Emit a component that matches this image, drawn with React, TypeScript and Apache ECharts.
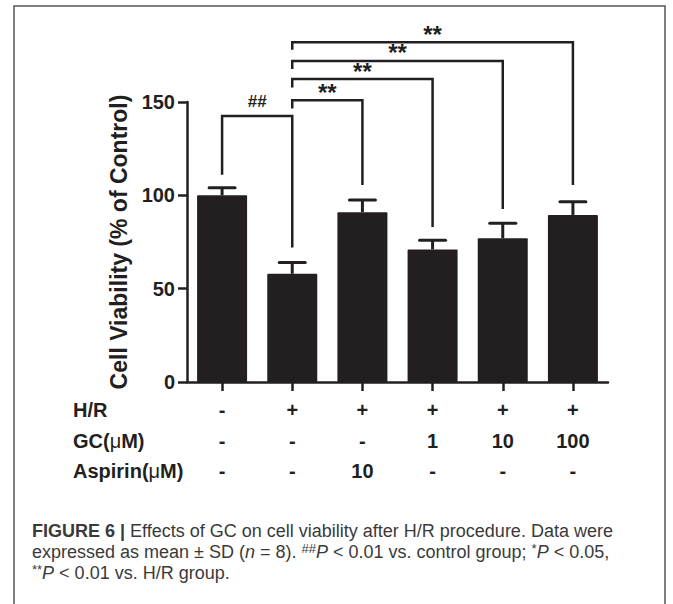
import React, { useEffect, useRef } from "react";
import * as echarts from "echarts";

// ---- data ----
const categories = ["Control", "H/R", "H/R+Aspirin 10", "H/R+GC 1", "H/R+GC 10", "H/R+GC 100"];
const means = [100, 58, 91, 71, 77, 89.5];
const sds = [4, 6, 6.5, 5, 8, 7];
const yTicks = { min: 0, max: 150, interval: 50 };
const rowHeaders = ["H/R", "GC(μM)", "Aspirin(μM)"];
const hrRow = ["-", "+", "+", "+", "+", "+"];
const gcRow = ["-", "-", "-", "1", "10", "100"];
const aspirinRow = ["-", "-", "10", "-", "-", "-"];
const yAxisTitle = "Cell Viability (% of Control)";
// [fromIndex, toIndex, lineY, leftLegEndY, rightLegEndY]
const brackets = [
  [0, 1, 142.5, 111, 72],
  [1, 2, 151, 146.5, 105.5],
  [1, 3, 162.3, 157.8, 83],
  [1, 4, 172, 167.7, 92.7],
  [1, 5, 182, 178, 105.5],
];
const bracketLabels = ["##", "**", "**", "**", "**"];
const captionLines = [
  "{b|FIGURE 6 |} Effects of GC on cell viability after H/R procedure. Data were",
  "expressed as mean ± SD ({i|n} = 8). {sup|##}{i|P} < 0.01 vs. control group; {sup|*}{i|P} < 0.05,",
  "{sup|**}{i|P} < 0.01 vs. H/R group.",
];

const INK = "#231f20";
const FONT = "'Liberation Sans', Arial, Helvetica, sans-serif";
const CAP = "#3a3a3a";

export default function App() {
  const ref = useRef<HTMLDivElement>(null);
  useEffect(() => {
    if (!ref.current) return;
    const chart = echarts.init(ref.current, null, { renderer: "svg" });
    const gridTop = 102;
    const gridBottomPx = 382;
    const rowAxis = (labels: string[], offset: number, main: boolean) => ({
      type: "category",
      data: categories,
      position: "bottom",
      gridIndex: 0,
      offset,
      axisLine: { show: main, onZero: false, lineStyle: { color: INK, width: 2.5 } },
      axisTick: { show: main, alignWithLabel: true, length: 9, lineStyle: { color: INK, width: 2.5 } },
      axisLabel: {
        show: true,
        interval: 0,
        margin: 18,
        fontSize: 20,
        fontWeight: "bold",
        fontFamily: FONT,
        color: INK,
        formatter: (_v: string, i: number) => labels[i],
      },
      splitLine: { show: false },
    });
    chart.setOption({
      animation: false,
      backgroundColor: "#ffffff",
      grid: { left: 187, right: 673 - 608, top: gridTop, bottom: 604 - gridBottomPx, containLabel: false },
      xAxis: [rowAxis(hrRow, 0, true), rowAxis(gcRow, 31, false), rowAxis(aspirinRow, 61, false)],
      yAxis: {
        type: "value",
        min: yTicks.min,
        max: yTicks.max,
        interval: yTicks.interval,
        name: yAxisTitle,
        nameLocation: "middle",
        nameRotate: 90,
        nameGap: 53,
        nameTextStyle: { fontSize: 23, fontWeight: "bold", fontFamily: FONT, color: INK },
        axisLine: { show: true, lineStyle: { color: INK, width: 2.5 } },
        axisTick: { show: true, length: 9, lineStyle: { color: INK, width: 2.5 } },
        axisLabel: { fontSize: 20, fontWeight: "bold", fontFamily: FONT, color: INK, margin: 12 },
        splitLine: { show: false },
      },
      series: [
        {
          type: "bar",
          data: means,
          barWidth: 50,
          itemStyle: { color: INK, borderRadius: 1 },
          z: 2,
        },
        {
          type: "custom",
          data: means.map((m, i) => [i, m, sds[i]]),
          encode: { x: 0, y: 1 },
          z: 3,
          renderItem: (_p: any, api: any) => {
            const i = api.value(0);
            const m = api.value(1);
            const s = api.value(2);
            const base = api.coord([i, m]);
            const top = api.coord([i, m + s]);
            return {
              type: "group",
              children: [
                { type: "line", shape: { x1: base[0], y1: base[1], x2: top[0], y2: top[1] }, style: { stroke: INK, lineWidth: 3 } },
                { type: "line", shape: { x1: top[0] - 13, y1: top[1], x2: top[0] + 13, y2: top[1] }, style: { stroke: INK, lineWidth: 3, lineCap: "round" } },
              ],
            };
          },
        },
        {
          type: "custom",
          data: brackets,
          encode: { x: 0, y: 2 },
          clip: false,
          z: 4,
          renderItem: (p: any, api: any) => {
            const a = api.value(0);
            const b = api.value(1);
            const ly = api.value(2);
            const l1 = api.value(3);
            const r1 = api.value(4);
            const p1 = api.coord([a, l1]);
            const p2 = api.coord([a, ly]);
            const p3 = api.coord([b, ly]);
            const p4 = api.coord([b, r1]);
            const lab = bracketLabels[p.dataIndex];
            const isHash = lab === "##";
            return {
              type: "group",
              children: [
                { type: "polyline", shape: { points: [p1, p2, p3, p4] }, style: { stroke: INK, lineWidth: 2.5, fill: "none" } },
                {
                  type: "text",
                  x: (p2[0] + p3[0]) / 2,
                  y: isHash ? p2[1] - 15 : p2[1] - 8,
                  style: {
                    text: lab,
                    fontSize: isHash ? 17 : 24,
                    fontWeight: "bold",
                    fontFamily: FONT,
                    fill: INK,
                    align: "center",
                    verticalAlign: "middle",
                  },
                },
              ],
            };
          },
        },
      ],
      graphic: [
        { type: "rect", shape: { x: 14, y: 6, width: 651, height: 700 }, style: { fill: "none", stroke: "#555", lineWidth: 1.5 }, silent: true },
        ...rowHeaders.map((h, k) => {
          const parts = h.split("μ");
          const text = parts.length > 1 ? `${parts[0]}{mu|μ}${parts[1]}` : h;
          return {
            type: "text",
            x: 73,
            y: [410, 441, 471][k],
            style: {
              text,
              fontSize: 20,
              fontWeight: "bold",
              fontFamily: FONT,
              fill: INK,
              verticalAlign: "middle",
              rich: { mu: { fontSize: 20, fontWeight: "normal", fontFamily: FONT, fill: INK } },
            },
          };
        }),
        ...captionLines.map((t, k) => ({
          type: "text",
          x: 32,
          y: [531, 552, 573][k],
          style: {
            text: t,
            fontSize: 18,
            fontFamily: FONT,
            fill: CAP,
            verticalAlign: "middle",
            rich: {
              b: { fontSize: 18, fontWeight: "bold", fontFamily: FONT, fill: CAP },
              i: { fontSize: 18, fontStyle: "italic", fontFamily: FONT, fill: CAP },
              sup: { fontSize: 13, fontFamily: FONT, fill: CAP, verticalAlign: "top", lineHeight: 20 },
            },
          },
        })),
      ],
    });
    return () => chart.dispose();
  }, []);
  return <div ref={ref} style={{ position: "fixed", left: 0, top: 0, width: 673, height: 604, background: "#fff" }} />;
}
